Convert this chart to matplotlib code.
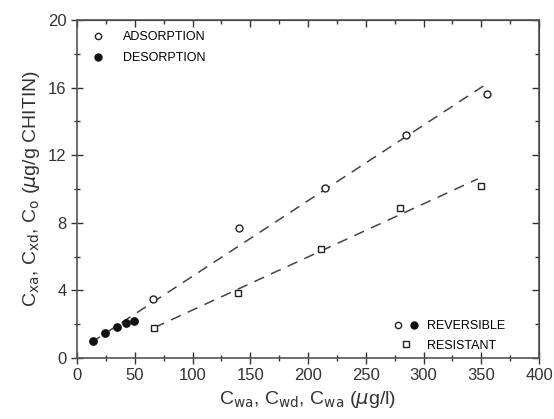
import matplotlib.pyplot as plt
from matplotlib.lines import Line2D
from matplotlib.legend_handler import HandlerTuple

plt.rcParams['font.family'] = ['Liberation Sans', 'DejaVu Sans']

# adsorption (open circles)
ads_x = [66, 140, 215, 285, 355]
ads_y = [3.5, 7.7, 10.05, 13.2, 15.65]
# desorption (filled circles)
des_x = [14, 24, 35, 42, 49]
des_y = [1.0, 1.45, 1.85, 2.05, 2.2]
# resistant (open squares)
res_x = [67, 139, 211, 280, 350]
res_y = [1.8, 3.85, 6.45, 8.9, 10.2]

# dashed fit lines (end points)
fit_rev_x = [12, 353]
fit_rev_y = [0.9, 16.15]
fit_res_x = [67, 347]
fit_res_y = [1.8, 10.6]

fig = plt.figure(figsize=(5.54, 4.19), dpi=100)
ax = fig.add_axes([0.139, 0.1456, 0.834, 0.8066])

ax.plot(fit_rev_x, fit_rev_y, ls=(0, (7, 5)), c='#444444', lw=1.1)
ax.plot(fit_res_x, fit_res_y, ls=(0, (7, 5)), c='#444444', lw=1.1)

ax.plot(ads_x, ads_y, 'o', mfc='white', mec='#222222', ms=5, mew=1.0)
ax.plot(des_x, des_y, 'o', mfc='#111111', mec='#111111', ms=5.3)
ax.plot(res_x, res_y, 's', mfc='white', mec='#222222', ms=5, mew=1.0)

ax.set_xlim(0, 400)
ax.set_ylim(0, 20)
ax.set_xticks(range(0, 401, 50))
ax.set_xticks(range(25, 400, 50), minor=True)
ax.set_yticks(range(0, 21, 4))
ax.set_yticks(range(2, 20, 4), minor=True)

ax.tick_params(which='both', labelsize=12, colors='#333333', direction='inout')
ax.tick_params(which='major', length=8, width=1)
ax.tick_params(which='minor', length=5, width=1)
for sp in ax.spines.values():
    sp.set_color('#555555')
    sp.set_linewidth(1.2)

# top and right ticks point inward
top = ax.secondary_xaxis('top')
top.set_xticks(range(0, 401, 50))
top.set_xticks(range(25, 400, 50), minor=True)
top.tick_params(which='both', direction='in', labeltop=False, colors='#333333', width=1)
top.tick_params(which='major', length=5)
top.tick_params(which='minor', length=3)
right = ax.secondary_yaxis('right')
right.set_yticks(range(0, 21, 4))
right.set_yticks(range(2, 20, 4), minor=True)
right.tick_params(which='both', direction='in', labelright=False, colors='#333333', width=1)
right.tick_params(which='major', length=5)
right.tick_params(which='minor', length=3)

ax.set_xlabel(r'C$_{\rm wa}$, C$_{\rm wd}$, C$_{\rm wa}$ ($\mu$g/l)', fontsize=14, color='#333333')
ax.set_ylabel(r'C$_{\rm xa}$, C$_{\rm xd}$, C$_{\rm o}$ ($\mu$g/g CHITIN)', fontsize=14, color='#333333')

open_c = Line2D([], [], ls='none', marker='o', mfc='white', mec='#222222', ms=4.5)
fill_c = Line2D([], [], ls='none', marker='o', mfc='#111111', mec='#111111', ms=5)
open_s = Line2D([], [], ls='none', marker='s', mfc='white', mec='#222222', ms=4.5)

leg1 = ax.legend([open_c, fill_c], ['ADSORPTION', 'DESORPTION'], loc='upper left',
                 frameon=False, fontsize=9, handlelength=1.5, handletextpad=1.3,
                 labelspacing=0.7, borderaxespad=0.5)
ax.add_artist(leg1)
ax.legend([(open_c, fill_c), open_s], ['REVERSIBLE', 'RESISTANT'], loc='lower right',
          bbox_to_anchor=(0.94, 0.0),
          frameon=False, fontsize=9, handlelength=2.2, handletextpad=0.6,
          labelspacing=0.6, borderaxespad=0.2, borderpad=0.3,
          handler_map={tuple: HandlerTuple(ndivide=None)})

plt.savefig('out.png', dpi=100)
